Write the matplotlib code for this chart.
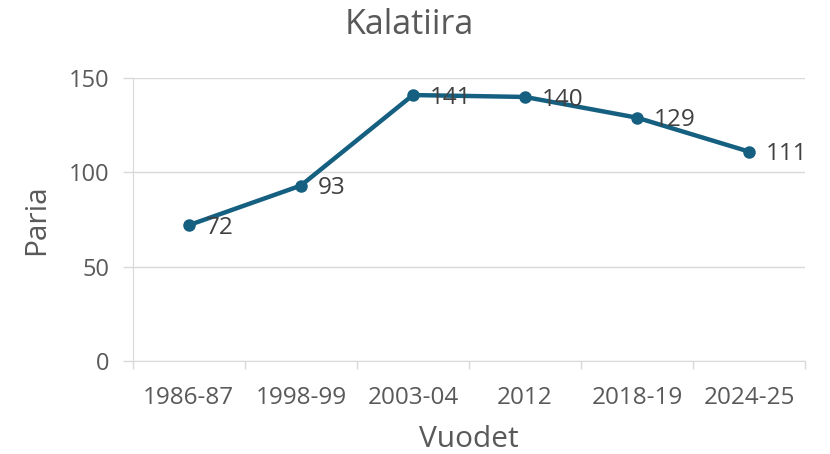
import numpy as np
import matplotlib.pyplot as plt

years = ['1986-87', '1998-99', '2003-04', '2012', '2018-19', '2024-25']
pairs = [72, 93, 141, 140, 129, 111]

plt.rcParams['font.family'] = ['Open Sans', 'DejaVu Sans']
line_col = '#155f80'
grid_col = '#d9d9d9'
txt_col = '#595959'

fig = plt.figure(figsize=(8.3, 4.54), dpi=100)
ax = fig.add_axes([0.160, 0.205, 0.810, 0.623])

x = np.arange(len(years))
ax.plot(x, pairs, color=line_col, lw=3.2, marker='o', ms=8, zorder=3)
for xi, v in zip(x, pairs):
    ax.annotate(str(v), (xi, v), xytext=(12, -2), textcoords='offset points',
                ha='left', va='center', fontsize=17.5, color='#404040', zorder=4)

ax.set_xlim(-0.5, len(years) - 0.5)
ax.set_ylim(0, 150)
ax.set_yticks([0, 50, 100, 150])
ax.yaxis.grid(True, color=grid_col, lw=1)
ax.set_axisbelow(True)

ax.set_xticks(x)
ax.set_xticklabels(years)
ax.set_xticks(np.arange(-0.5, len(years)), minor=True)
ax.tick_params(axis='x', which='major', length=0, pad=18, labelsize=17.5, labelcolor=txt_col)
ax.tick_params(axis='x', which='minor', length=6, color=grid_col, width=1)
ax.tick_params(axis='y', length=7, color=grid_col, width=1, pad=10, labelsize=17, labelcolor=txt_col)

for s in ['top', 'right']:
    ax.spines[s].set_visible(False)
ax.spines['left'].set_color(grid_col)
ax.spines['bottom'].set_color(grid_col)

fig.text(0.493, 0.945, 'Kalatiira', fontsize=24.5, color=txt_col, ha='center', va='center')
ax.set_xlabel('Vuodet', fontsize=21.5, color=txt_col)
ax.set_ylabel('Paria', fontsize=21.5, color=txt_col)
ax.xaxis.set_label_coords(0.5, -0.279)
ax.yaxis.set_label_coords(-0.143, 0.5)
ax.xaxis.label.set_va('center')
ax.yaxis.label.set_va('center')

fig.savefig('out.png', dpi=100)
